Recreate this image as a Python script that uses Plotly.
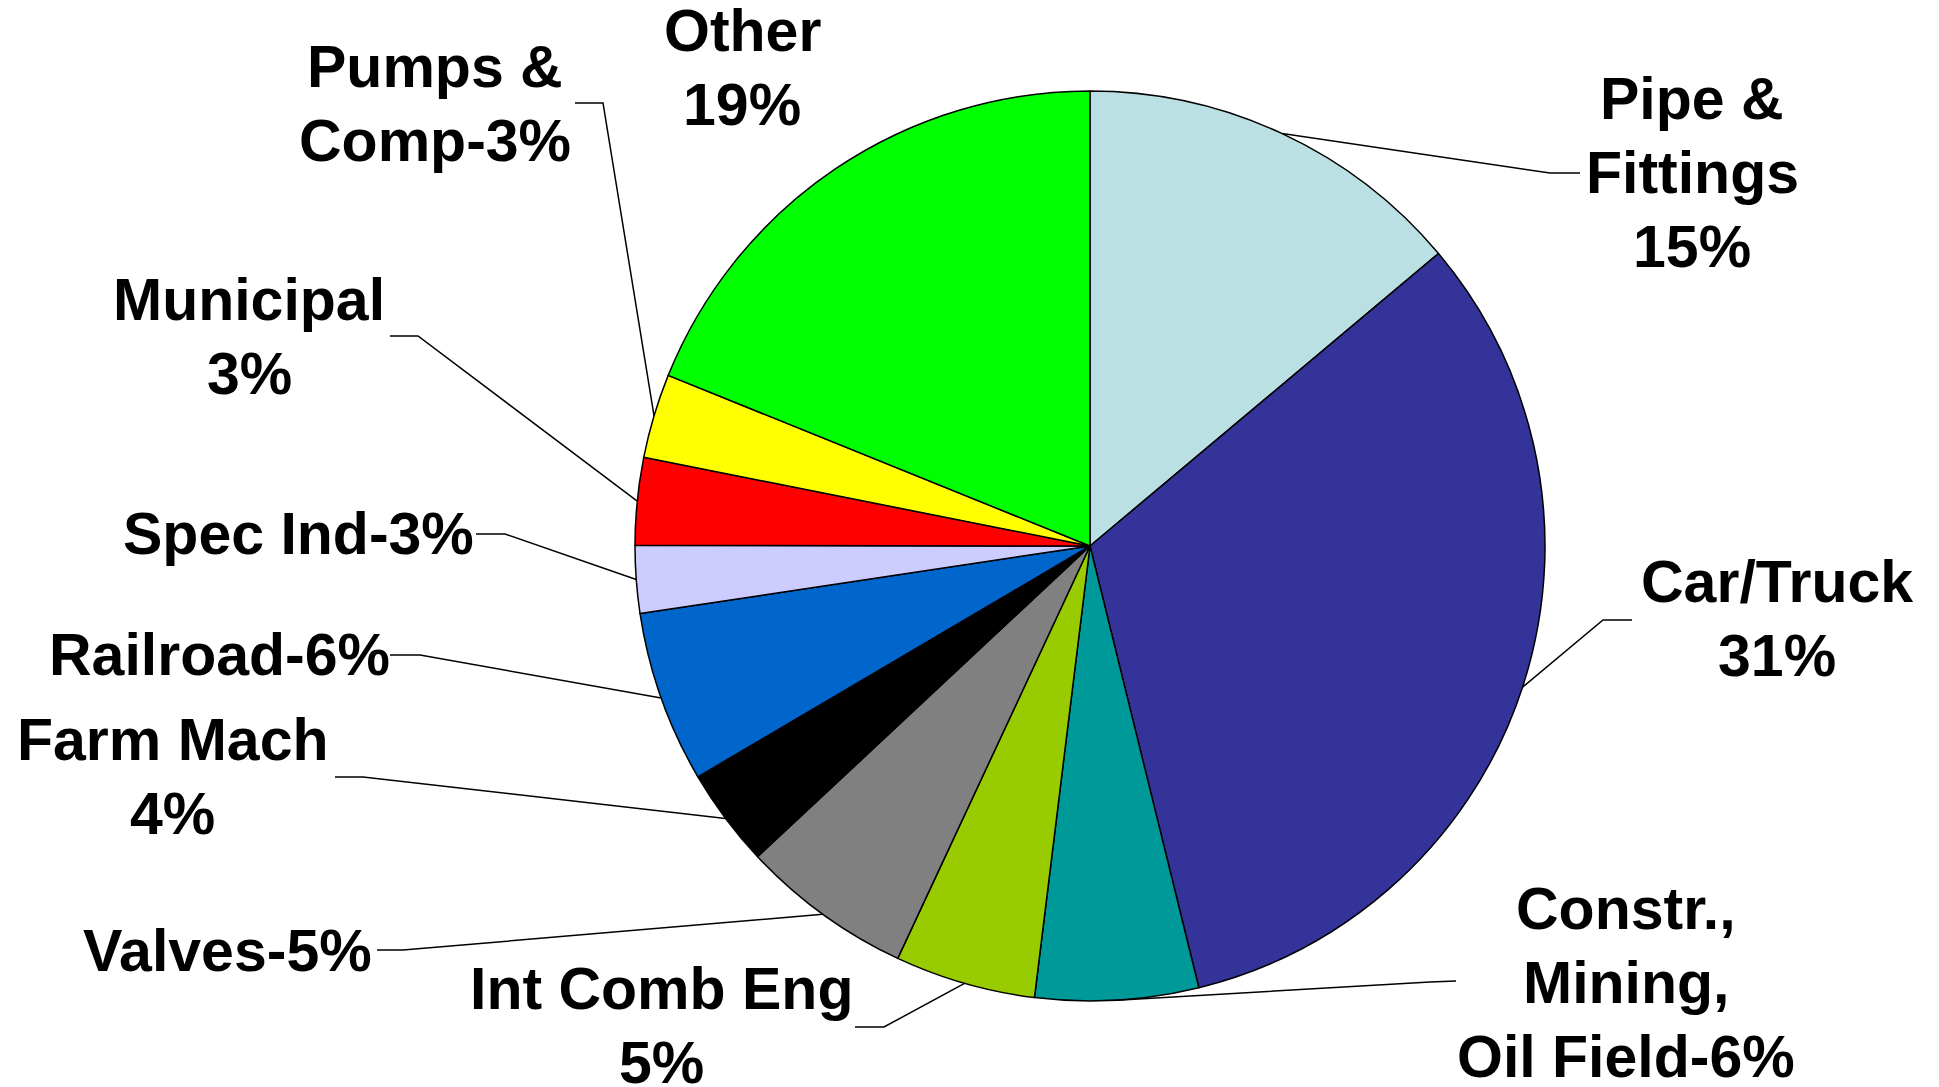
import math
import plotly.graph_objects as go

# ---- data ----
categories = ["Pipe & Fittings", "Car/Truck", "Constr., Mining, Oil Field", "Int Comb Eng",
              "Valves", "Farm Mach", "Railroad", "Spec Ind", "Municipal", "Pumps & Comp", "Other"]
values = [13.9, 32.3, 5.8, 5.0, 6.1, 3.5, 6.1, 2.4, 3.1, 3.0, 18.9]
label_texts = ["Pipe &<br>Fittings<br>15%", "Car/Truck<br>31%", "Constr.,<br>Mining,<br>Oil Field-6%",
               "Int Comb Eng<br>5%", "Valves-5%", "Farm Mach<br>4%", "Railroad-6%", "Spec Ind-3%",
               "Municipal<br>3%", "Pumps &<br>Comp-3%", "Other<br>19%"]
colors = ["#BBE0E3", "#333399", "#009999", "#99CC00", "#808080", "#000000",
          "#0066CC", "#CCCCFF", "#FF0000", "#FFFF00", "#00FF00"]

# ---- layout (pixels) ----
W, H = 1939, 1087
CX, CY, R = 1090, 546, 455
LINE_H = 74
FONT_SIZE = 59
# label centre, leader elbow, leader end (None = no leader)
label_layout = [
    ((1692, 173), (1550, 173), (1580, 173)),
    ((1777, 619), (1603, 620), (1632, 620)),
    ((1626, 983), (1430, 982), (1456, 981)),
    ((661, 1026), (884, 1027), (855, 1027)),
    ((227, 951), (403, 950), (377, 950)),
    ((172, 777), (363, 777), (335, 777)),
    ((219, 655), (420, 655), (390, 655)),
    ((298, 534), (505, 534), (476, 534)),
    ((249, 337), (418, 336), (390, 336)),
    ((435, 104), (603, 103), (575, 103)),
    ((742, 68), None, None),
]

def px(x, y):
    return x / W, 1 - y / H

fig = go.Figure(go.Pie(
    labels=categories, values=values, sort=False, direction="clockwise", rotation=0,
    marker=dict(colors=colors, line=dict(color="black", width=1.5)),
    textinfo="none", hoverinfo="label+percent", showlegend=False,
    domain=dict(x=[(CX - R) / W, (CX + R) / W], y=[(H - CY - R) / H, (H - CY + R) / H]),
))

total = sum(values)
cum = 0.0
shapes, annotations = [], []
for v, txt, (lab, elbow, end) in zip(values, label_texts, label_layout):
    mid = (cum + v / 2) / total * 2 * math.pi
    cum += v
    lines = txt.split("<br>")
    n = len(lines)
    for i, line in enumerate(lines):
        yy = lab[1] + (i - (n - 1) / 2) * LINE_H
        lx, ly = px(lab[0], yy)
        annotations.append(dict(x=lx, y=ly, xref="paper", yref="paper", text="<b>" + line + "</b>",
                                showarrow=False, xanchor="center", yanchor="middle", align="center",
                                font=dict(family="Liberation Sans, Arial", size=FONT_SIZE, color="black")))
    if elbow is None:
        continue
    sx, sy = CX + R * math.sin(mid), CY - R * math.cos(mid)
    pts = [px(sx, sy), px(*elbow), px(*end)]
    path = "M {} {} L {} {} L {} {}".format(*[c for p in pts for c in p])
    shapes.append(dict(type="path", path=path, xref="paper", yref="paper",
                       line=dict(color="black", width=1.5)))

fig.update_layout(width=W, height=H, margin=dict(l=0, r=0, t=0, b=0),
                  paper_bgcolor="white", plot_bgcolor="white",
                  shapes=shapes, annotations=annotations)
fig.write_html("out.html", config={"displayModeBar": False},
               post_script="document.body.style.margin='0';document.body.style.padding='0';")
